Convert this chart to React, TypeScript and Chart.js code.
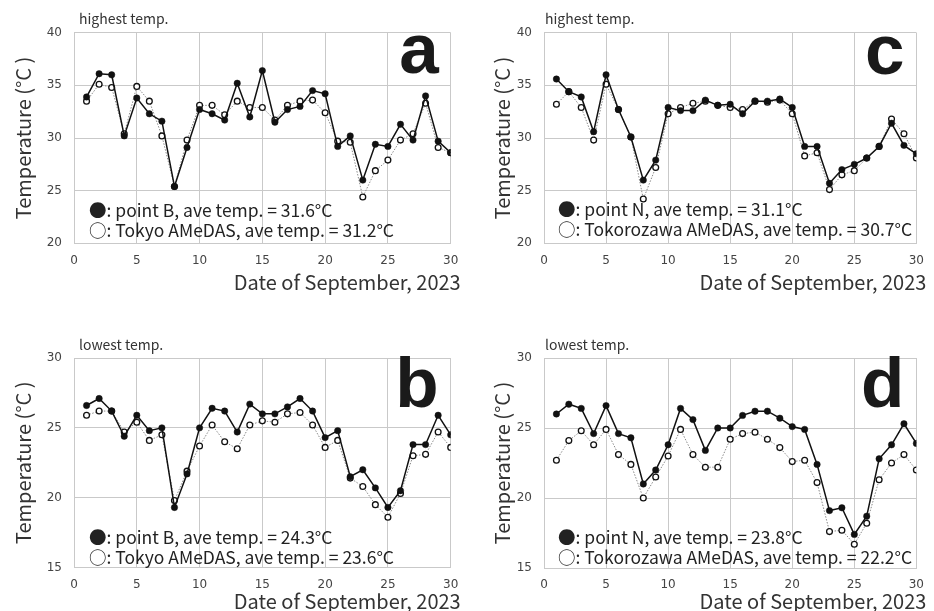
import React, { useEffect, useRef } from "react";
import { Chart, registerables } from "chart.js";

Chart.register(...registerables);

const days = [1, 2, 3, 4, 5, 6, 7, 8, 9, 10, 11, 12, 13, 14, 15, 16, 17, 18, 19, 20, 21, 22, 23, 24, 25, 26, 27, 28, 29, 30];

const highPointB = [33.9, 36.1, 36.0, 30.2, 33.8, 32.3, 31.6, 25.4, 29.1, 32.7, 32.3, 31.7, 35.2, 32.0, 36.4, 31.5, 32.7, 33.0, 34.5, 34.2, 29.2, 30.2, 26.0, 29.4, 29.2, 31.3, 29.8, 34.0, 29.7, 28.6];
const highTokyo = [33.5, 35.1, 34.8, 30.4, 34.9, 33.5, 30.2, 25.4, 29.8, 33.1, 33.1, 32.2, 33.5, 32.9, 32.9, 31.7, 33.1, 33.5, 33.6, 32.4, 29.7, 29.6, 24.4, 26.9, 27.9, 29.8, 30.4, 33.3, 29.1, 28.6];

const highPointN = [35.6, 34.4, 33.9, 30.6, 36.0, 32.7, 30.1, 26.0, 27.9, 32.9, 32.6, 32.6, 33.6, 33.1, 33.2, 32.3, 33.5, 33.5, 33.7, 32.9, 29.2, 29.2, 25.7, 27.0, 27.5, 28.1, 29.2, 31.4, 29.3, 28.5];
const highTokorozawa = [33.2, 34.4, 32.9, 29.8, 35.1, 32.7, 30.1, 24.2, 27.2, 32.3, 32.9, 33.3, 33.5, 33.1, 32.9, 32.7, 33.5, 33.4, 33.6, 32.3, 28.3, 28.6, 25.1, 26.5, 26.9, 28.1, 29.2, 31.8, 30.4, 28.1];

const lowPointB = [26.6, 27.1, 26.2, 24.4, 25.9, 24.8, 25.0, 19.3, 21.7, 25.0, 26.4, 26.2, 24.7, 26.7, 26.0, 26.0, 26.5, 27.1, 26.2, 24.3, 24.8, 21.5, 22.0, 20.7, 19.3, 20.5, 23.8, 23.8, 25.9, 24.5];
const lowTokyo = [25.9, 26.2, 26.2, 24.7, 25.4, 24.1, 24.5, 19.8, 21.9, 23.7, 25.2, 24.0, 23.5, 25.2, 25.5, 25.4, 26.0, 26.1, 25.2, 23.6, 24.1, 21.4, 20.8, 19.5, 18.6, 20.3, 23.0, 23.1, 24.7, 23.6];

const lowPointN = [26.0, 26.7, 26.4, 24.6, 26.6, 24.6, 24.3, 21.0, 22.0, 23.8, 26.4, 25.6, 23.4, 25.0, 25.0, 25.9, 26.2, 26.2, 25.7, 25.1, 24.9, 22.4, 19.1, 19.3, 17.4, 18.7, 22.8, 23.8, 25.3, 23.9];
const lowTokorozawa = [22.7, 24.1, 24.8, 23.8, 24.9, 23.1, 22.4, 20.0, 21.5, 23.0, 24.9, 23.1, 22.2, 22.2, 24.2, 24.6, 24.7, 24.2, 23.6, 22.6, 22.7, 21.1, 17.6, 17.7, 16.7, 18.2, 21.3, 22.5, 23.1, 22.0];

const xTitle = "Date of September, 2023";
const yTitle = "Temperature (°C )";

const W = 934;
const H = 611;

type Panel = {
  letter: string;
  kind: string;
  legend1: string;
  legend2: string;
  filled: number[];
  open: number[];
  yMin: number;
  yMax: number;
  area: { l: number; t: number; r: number; b: number };
  kindX: number;
  kindY: number;
  legX: number;
  legY: number;
  letterBase: number;
  yTitleX: number;
  xTitleY: number;
};

const panels: Panel[] = [
  {
    letter: "a", kind: "highest temp.",
    legend1: "●: point B, ave temp. = 31.6°C",
    legend2: "○: Tokyo AMeDAS, ave temp. = 31.2°C",
    filled: highPointB, open: highTokyo, yMin: 20, yMax: 40,
    area: { l: 74, t: 32.7, r: 450.7, b: 243.3 },
    kindX: 79, kindY: 19, legX: 89, legY: 210, letterBase: 73, yTitleX: 23, xTitleY: 282,
  },
  {
    letter: "c", kind: "highest temp.",
    legend1: "●: point N, ave temp. = 31.1°C",
    legend2: "○: Tokorozawa AMeDAS, ave temp. = 30.7°C",
    filled: highPointN, open: highTokorozawa, yMin: 20, yMax: 40,
    area: { l: 544, t: 32.7, r: 920.7, b: 243.3 },
    kindX: 545, kindY: 19, legX: 558, legY: 209, letterBase: 74, yTitleX: 502, xTitleY: 282,
  },
  {
    letter: "b", kind: "lowest temp.",
    legend1: "●: point B, ave temp. = 24.3°C",
    legend2: "○: Tokyo AMeDAS, ave temp. = 23.6°C",
    filled: lowPointB, open: lowTokyo, yMin: 15, yMax: 30,
    area: { l: 74, t: 358, r: 450.7, b: 567.5 },
    kindX: 79, kindY: 345, legX: 89, legY: 537, letterBase: 406.5, yTitleX: 23, xTitleY: 601,
  },
  {
    letter: "d", kind: "lowest temp.",
    legend1: "●: point N, ave temp. = 23.8°C",
    legend2: "○: Tokorozawa AMeDAS, ave temp. = 22.2°C",
    filled: lowPointN, open: lowTokorozawa, yMin: 15, yMax: 30,
    area: { l: 544, t: 358, r: 920.7, b: 568 },
    kindX: 545, kindY: 345, legX: 558, legY: 537, letterBase: 406.5, yTitleX: 502, xTitleY: 601,
  },
];

const Y_AXIS_W = 40;
const X_AXIS_H = 30;
const GRID = "#c9c9c9";
const TEXT = "#333333";

function overlay(p: Panel) {
  return {
    id: "overlay-" + p.letter,
    afterDraw(chart: any) {
      const ctx = chart.ctx as CanvasRenderingContext2D;
      const ca = chart.chartArea;
      ctx.save();
      ctx.fillStyle = TEXT;
      // panel kind label
      ctx.font = '14px "Noto Sans CJK JP"';
      ctx.textAlign = "left";
      ctx.textBaseline = "middle";
      ctx.fillText(p.kind, p.kindX, p.kindY);
      // big letter
      ctx.fillStyle = "#1a1a1a";
      ctx.font = 'bold 71px "Liberation Sans"';
      ctx.textAlign = "right";
      ctx.textBaseline = "alphabetic";
      ctx.fillText(p.letter, ca.right - 12, p.letterBase);
      // legend text
      ctx.fillStyle = "#222";
      ctx.font = '17.5px "Noto Sans CJK JP"';
      ctx.textAlign = "left";
      ctx.textBaseline = "middle";
      ctx.fillText(p.legend1, p.legX, p.legY);
      ctx.fillText(p.legend2, p.legX, p.legY + 20);
      // x title
      ctx.fillStyle = TEXT;
      ctx.font = '20px "Noto Sans CJK JP"';
      ctx.textAlign = "right";
      ctx.fillText(xTitle, ca.right + 10, p.xTitleY);
      // y title
      ctx.translate(p.yTitleX, (ca.top + ca.bottom) / 2);
      ctx.rotate(-Math.PI / 2);
      ctx.textAlign = "center";
      ctx.fillText(yTitle, 0, 0);
      ctx.restore();
    },
  };
}

function PanelChart({ p }: { p: Panel }) {
  const ref = useRef<HTMLCanvasElement | null>(null);
  useEffect(() => {
    if (!ref.current) return;
    const chart = new Chart(ref.current, {
      type: "line",
      data: {
        datasets: [
          {
            data: days.map((d, i) => ({ x: d, y: p.filled[i] })),
            borderColor: "#111",
            borderWidth: 1.5,
            pointRadius: 3.2,
            pointBackgroundColor: "#111",
            pointBorderColor: "#111",
            pointBorderWidth: 0.5,
            order: 0,
          },
          {
            data: days.map((d, i) => ({ x: d, y: p.open[i] })),
            borderColor: "#8a8a8a",
            borderWidth: 1,
            borderDash: [1.5, 1.5],
            pointRadius: 2.9,
            pointBackgroundColor: "#ffffff",
            pointBorderColor: "#111",
            pointBorderWidth: 1.3,
            order: 1,
          },
        ],
      },
      options: {
        animation: false,
        responsive: false,
        events: [],
        layout: {
          padding: {
            left: p.area.l - Y_AXIS_W,
            top: p.area.t,
            right: W - p.area.r,
            bottom: H - p.area.b - X_AXIS_H,
          },
        },
        plugins: { legend: { display: false }, tooltip: { enabled: false }, title: { display: false } },
        scales: {
          x: {
            type: "linear",
            min: 0,
            max: 30,
            afterFit: (s: any) => { s.height = X_AXIS_H; },
            border: { display: true, color: GRID, width: 1 },
            grid: { color: GRID, lineWidth: 1, drawTicks: false },
            ticks: {
              stepSize: 5,
              padding: 10,
              color: "#444",
              maxRotation: 0,
              font: { family: '"DejaVu Sans"', size: 12 },
            },
          },
          y: {
            type: "linear",
            min: p.yMin,
            max: p.yMax,
            afterFit: (s: any) => { s.width = Y_AXIS_W; },
            border: { display: true, color: GRID, width: 1 },
            grid: { color: GRID, lineWidth: 1, drawTicks: false },
            ticks: {
              stepSize: 5,
              padding: 12,
              color: "#444",
              font: { family: '"DejaVu Sans"', size: 12 },
            },
          },
        },
      },
      plugins: [overlay(p)],
    } as any);
    return () => chart.destroy();
  }, [p]);
  return (
    <canvas
      ref={ref}
      width={W}
      height={H}
      style={{ position: "absolute", left: 0, top: 0, width: W, height: H }}
    />
  );
}

export default function App() {
  return (
    <div style={{ position: "absolute", left: 0, top: 0, width: W, height: H, background: "#fff", overflow: "hidden" }}>
      {panels.map((p) => (
        <PanelChart key={p.letter} p={p} />
      ))}
    </div>
  );
}
